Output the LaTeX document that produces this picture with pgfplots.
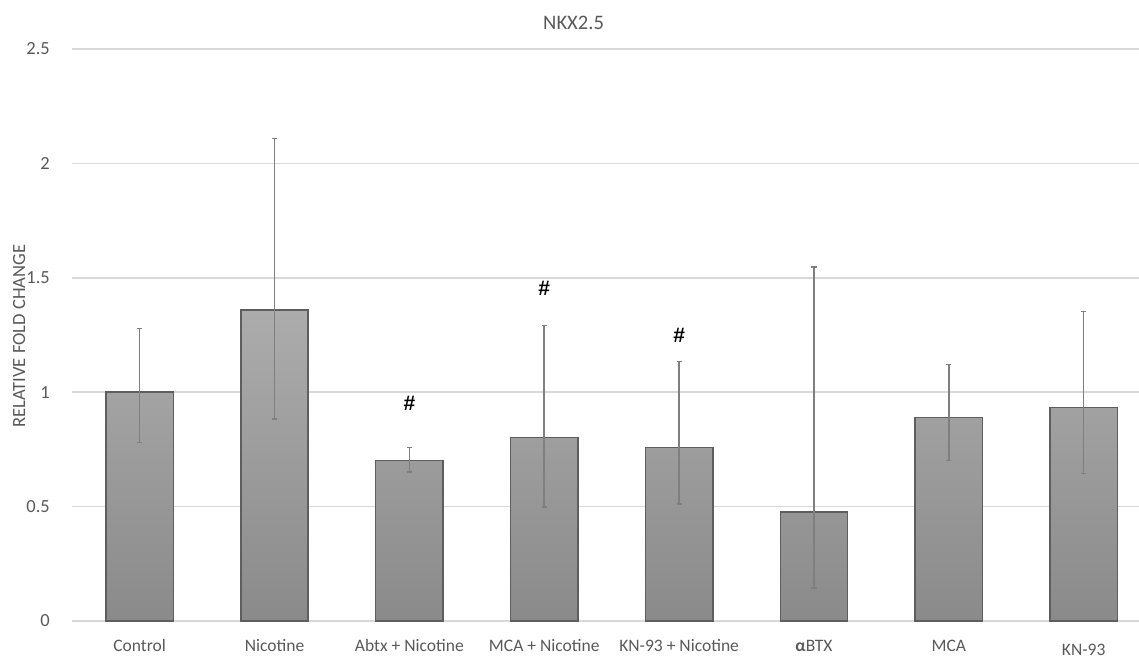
\documentclass[border=0pt]{standalone}
\usepackage{fontspec}
\setmainfont{Carlito}
\newfontfamily\hashfont{Liberation Sans}
\usepackage{pgfplots}
\pgfplotsset{compat=1.18}
\definecolor{txt}{HTML}{595959}
\definecolor{grid}{HTML}{D9D9D9}
\definecolor{baredge}{HTML}{5E5E5E}
\definecolor{bartop}{HTML}{ACACAC}
\definecolor{barbot}{HTML}{8A8A8A}
\definecolor{errc}{HTML}{7F7F7F}
\begin{document}
\begin{tikzpicture}
\begin{axis}[
  name=ax,
  scale only axis,
  width=533.4pt, height=286pt,
  xmin=-0.5, xmax=7.41,
  ymin=0, ymax=2.5,
  ytick={0,0.5,1,1.5,2,2.5},
  yticklabels={0,0.5,1,1.5,2,2.5},
  xtick={0,1,2,3,4,5,6,7},
  xticklabels={Control,Nicotine,Abtx + Nicotine,MCA + Nicotine,KN-93 + Nicotine,{{\bfseries α}BTX},MCA,\raisebox{-1.75pt}{KN-93}},
  major tick length=0pt,
  axis line style={draw=none},
  ymajorgrids,
  grid style={draw=grid, line width=0.75pt},
  tick label style={font=\fontsize{8.75pt}{10pt}\selectfont, text=txt},
  xticklabel style={anchor=base, yshift=-15.3pt, inner sep=0pt},
  yticklabel style={anchor=east, xshift=-11pt, inner sep=0pt, font=\fontsize{9.25pt}{10pt}\selectfont},
  ylabel={RELATIVE FOLD CHANGE},
  every axis y label/.style={at={(axis description cs:-0.0497,0.498)}, rotate=90, anchor=center, font=\fontsize{9.3pt}{10pt}\selectfont, text=txt},
  title={NKX2.5},
  every axis title/.style={at={(axis description cs:0.470,1.045)}, anchor=center, font=\fontsize{10.3pt}{12pt}\selectfont, text=txt},
  clip=false,
]
\draw[grid, line width=0.75pt] (axis cs:-0.5,0) -- (axis cs:7.41,0);
\addplot[ybar, bar width=0.5, draw=baredge, line width=0.75pt, top color=bartop, bottom color=barbot,
  error bars/.cd, y dir=both, y explicit,
  error bar style={draw=errc, line width=0.75pt},
  error mark options={rotate=90, mark size=1.3pt, line width=0.75pt, draw=errc}]
coordinates {
  (0,1.000) += (0,0.278) -= (0,0.219)
  (1,1.359) += (0,0.750) -= (0,0.476)
  (2,0.702) += (0,0.057) -= (0,0.051)
  (3,0.803) += (0,0.489) -= (0,0.305)
  (4,0.759) += (0,0.375) -= (0,0.247)
  (5,0.477) += (0,1.070) -= (0,0.333)
  (6,0.889) += (0,0.232) -= (0,0.187)
  (7,0.934) += (0,0.418) -= (0,0.290)
};
\addplot[draw=none, mark=none, point meta=explicit symbolic,
  nodes near coords, nodes near coords align=center,
  every node near coord/.append style={anchor=center, font=\hashfont\bfseries\fontsize{10.5pt}{12pt}\selectfont, text=black}]
coordinates {
  (2,0.953) [\#]
  (3,1.452) [\#]
  (4,1.248) [\#]
};
\end{axis}
\pgfresetboundingbox
\path[use as bounding box] ([shift={(-36.1pt,-18pt)}]ax.south west) rectangle ([shift={(0pt,24.5pt)}]ax.north east);
\end{tikzpicture}
\end{document}
